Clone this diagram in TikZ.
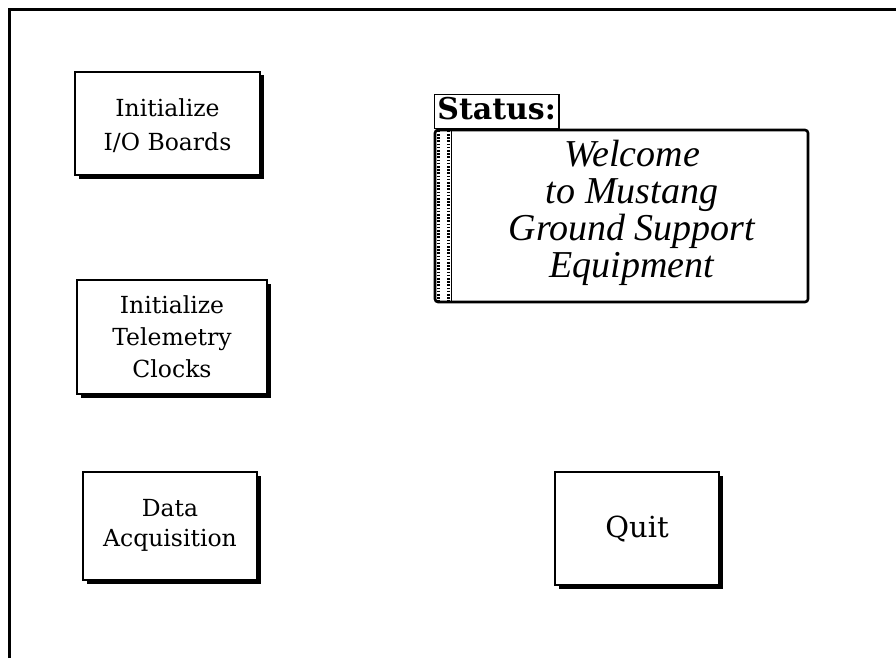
\documentclass[tikz,border=0pt]{standalone}
\usepackage{fontspec}
\setmainfont{DejaVu Serif}
\newfontfamily\msgfont{Liberation Serif}
\usetikzlibrary{shadows}
\begin{document}
\begin{tikzpicture}[x=1pt,y=-1pt,
  btn/.style={draw, line width=1.6pt, fill=white, inner sep=0pt, align=center,
    drop shadow={shadow xshift=3.5pt, shadow yshift=-3.5pt, fill=black, opacity=1},
    font=\fontsize{23.5}{33}\selectfont},
  btntext/.style={align=center, inner sep=0pt},
  frameline/.style={line width=3pt},
  panel/.style={draw, line width=2.6pt, rounded corners=3pt, inner sep=0pt, fill=white},
  tabbox/.style={draw, line width=1.3pt, fill=white, inner sep=3pt, text depth=6pt,
    font=\fontsize{30}{34}\selectfont\bfseries},
  msg/.style={align=center, inner sep=0pt, font=\msgfont\fontsize{38}{37}\selectfont\itshape},
  ladder/.style={line width=3pt, dash pattern=on 1.6pt off 1.6pt}
]
\useasboundingbox (0,0) rectangle (896,658);
% outer window frame (open on right and bottom)
\coordinate (fa) at (9,658);
\coordinate (fb) at (9,10);
\coordinate (fc) at (896,10);
\draw[frameline] (fa) -- (fb) -- (fc);

% buttons
\node[btn, minimum width=185, minimum height=103] (b1) at (167.5,123.5) {};
\node[btntext, font=\fontsize{23.5}{34}\selectfont] (b1t) at ([yshift=-2pt]b1.center) {Initialize\\I/O Boards};
\node[btn, minimum width=190, minimum height=114] (b2) at (172,337) {};
\node[btntext, font=\fontsize{23.5}{32}\selectfont] (b2t) at (b2.center) {Initialize\\Telemetry\\Clocks};
\node[btn, minimum width=174, minimum height=108] (b3) at (170,526) {};
\node[btntext, font=\fontsize{23.5}{30}\selectfont] (b3t) at ([yshift=1pt]b3.center) {Data\\Acquisition};
\node[btn, minimum width=164, minimum height=113] (quit) at (637,528.5) {};
\node[btntext, font=\fontsize{29}{34}\selectfont] (quitt) at ([yshift=-1pt]quit.center) {Quit};

% status panel
\node[panel, minimum width=373, minimum height=172] (status) at (621.5,216) {};
\node[tabbox, minimum width=124, anchor=south west] (tab) at ([yshift=-0.5pt]status.north west) {Status:};
\coordinate (bt) at ([xshift=2.5pt,yshift=-2pt]status.north west);
\coordinate (bb) at ([xshift=2.5pt,yshift=2pt]status.south west);
\draw[line width=1.4pt] ([xshift=15pt]bt) -- ([xshift=15pt]bb);
\draw[ladder] ([xshift=2pt]bt) -- ([xshift=2pt]bb);
\draw[ladder] ([xshift=12pt]bt) -- ([xshift=12pt]bb);
\node[msg] (welcome) at (632,213) {Welcome\\to Mustang\\Ground Support\\Equipment};
\end{tikzpicture}
\end{document}
